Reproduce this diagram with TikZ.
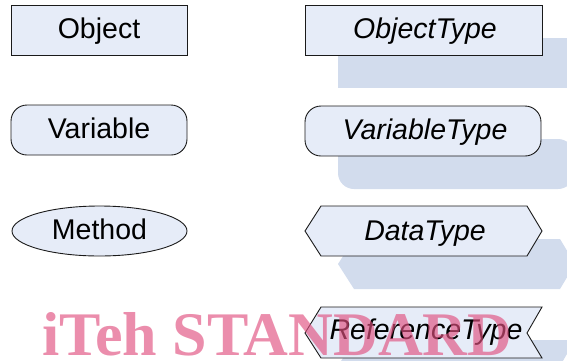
\documentclass[tikz,border=0pt]{standalone}
\usepackage{fontspec}
\setmainfont{Liberation Sans}
\newfontfamily\wmfont{Liberation Serif}
\usetikzlibrary{shapes.geometric}
\definecolor{boxfill}{HTML}{E6ECF8}
\definecolor{shadowblue}{HTML}{D2DCED}
\definecolor{wmpink}{HTML}{E0507F}
\definecolor{edge}{HTML}{1A1A1A}
\tikzset{
  boxstyle/.style={draw=edge, line width=0.9pt, fill=boxfill},
  shadowstyle/.style={fill=shadowblue, draw=none},
  lbl/.style={font=\fontsize{28.5}{34}\selectfont, text=black, inner sep=0pt, text height=20.5pt, text depth=0pt},
  tlbl/.style={lbl, font=\fontsize{28.5}{34}\selectfont\itshape},
}
\begin{document}
\begin{tikzpicture}[x=1pt,y=-1pt]
\useasboundingbox (0,0) rectangle (567,360);
\begin{scope}
\clip (0,0) rectangle (567,360);
% shadows (offset copies of the type shapes)
\begin{scope}[shift={(33,33)}]
  \fill[shadowstyle] (305,5) rectangle (542,55);
  \fill[shadowstyle, rounded corners=16pt] (305,106) rectangle (541,156);
  \fill[shadowstyle] (305,231) -- (321,206) -- (527,206) -- (542,231) -- (527,256) -- (321,256) -- cycle;
  \fill[shadowstyle] (305,333) -- (321,307) -- (542,307) -- (527,333) -- (542,358) -- (321,358) -- cycle;
\end{scope}

% left column
\node[boxstyle, rectangle, minimum width=176pt, minimum height=50pt, lbl] (obj) at (99,30) {};
\node[lbl] (objl) at (99,28.5) {Object};
\node[boxstyle, rectangle, rounded corners=16pt, minimum width=176pt, minimum height=50pt, lbl] (var) at (99,130) {};
\node[lbl] (varl) at (99,128.5) {Variable};
\node[boxstyle, ellipse, minimum width=175pt, minimum height=50pt, lbl] (meth) at (99.5,231) {};
\node[lbl] (methl) at (99.5,229.5) {Method};

% right column
\node[boxstyle, rectangle, minimum width=237pt, minimum height=50pt] (objt) at (423.5,30) {};
\node[tlbl] (objtl) at (425,28.5) {ObjectType};
\node[boxstyle, rectangle, rounded corners=16pt, minimum width=236pt, minimum height=50pt] (vart) at (423,131) {};
\node[tlbl] (vartl) at (425,129.5) {VariableType};

\draw[boxstyle] (305,231) -- (321,206) -- (527,206) -- (542,231) -- (527,256) -- (321,256) -- cycle;
\node[tlbl] (dtt) at (425,230) {DataType};

\draw[boxstyle] (305,333) -- (321,307) -- (542,307) -- (527,333) -- (542,358) -- (321,358) -- cycle;
\node[tlbl] (reft) at (426,329) {ReferenceType};

% watermark
\node[anchor=base west, inner sep=0pt, text=wmpink, opacity=0.65,
      font=\wmfont\bfseries\fontsize{62}{70}\selectfont] (wm) at (42,355) {iTeh STANDARD};
\end{scope}
\end{tikzpicture}
\end{document}
